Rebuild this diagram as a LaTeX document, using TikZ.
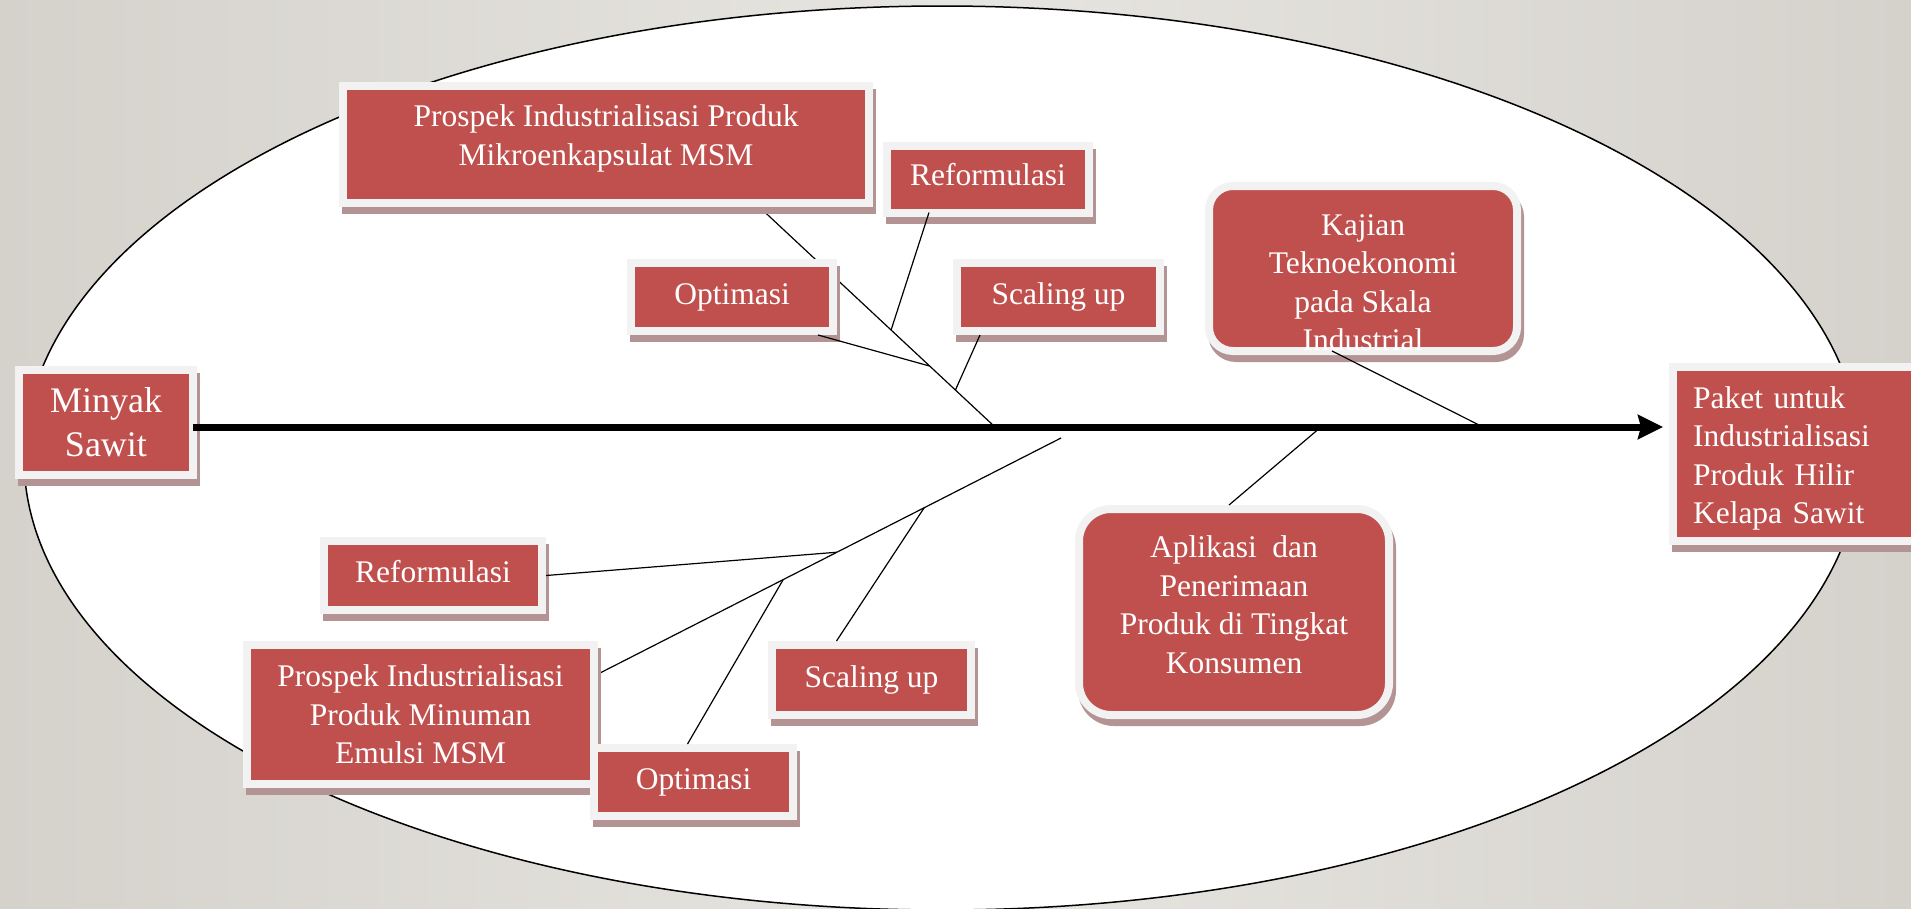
\documentclass[tikz,border=0pt]{standalone}
\usepackage{fontspec}
\setmainfont{Liberation Serif}
\usepackage{xcolor}
\usepackage{tikz}
\usetikzlibrary{arrows.meta}
\usetikzlibrary{shadows}
\usetikzlibrary{calc}
\definecolor{boxred}{HTML}{C0504D}
\definecolor{boxframe}{HTML}{F2F2F2}
\definecolor{boxshade}{HTML}{B39393}
\definecolor{slidegrey}{HTML}{D5D2CC}
\definecolor{slidelight}{HTML}{E7E5E1}
\pgfdeclarelayer{background}
\pgfdeclarelayer{bones}
\pgfsetlayers{background,bones,main}
\tikzset{
    fishbox/.style={shape=rectangle, fill=boxred, draw=boxframe, line width=8pt,
        inner sep=0pt, outer sep=0pt, text=white, align=center,
        font=\fontsize{31.5}{38.5}\selectfont,
        drop shadow={shadow xshift=3pt, shadow yshift=-7pt, opacity=1,
            fill=boxshade, draw=boxshade, line width=8pt}},
    roundbox/.style={fishbox, rounded corners=#1},
    bone/.style={draw=black, line width=1.2pt},
    spine/.style={draw=black, line width=7pt,
        -{Stealth[length=25pt, width=24pt, inset=3pt]}}}

\begin{document}
\begin{tikzpicture}[x=1pt, y=-1pt]

    \useasboundingbox (0,0) rectangle (1911,908);
    \begin{pgfonlayer}{background}
        \shade[left color=slidegrey, right color=slidegrey, middle color=slidelight] (0,0) rectangle (1911,908);
        \draw[fill=white, line width=1.5pt] (942,458) ellipse [x radius=918, y radius=452];
    \end{pgfonlayer}

    \node[fishbox, minimum width=174pt, minimum height=105pt, font=\fontsize{36}{44}\selectfont] (MS) at (106,422.5) {Minyak\\Sawit};
    \node[fishbox, minimum width=526pt, minimum height=117pt] (P1) at (606,144.5) {Prospek Industrialisasi Produk\\Mikroenkapsulat MSM\rule[-19pt]{0pt}{19pt}};
    \node[fishbox, minimum width=202pt, minimum height=67pt] (R1) at (988,179) {Reformulasi\rule[-10pt]{0pt}{10pt}};
    \node[fishbox, minimum width=202pt, minimum height=68pt] (O1) at (732,297) {Optimasi};
    \node[fishbox, minimum width=203pt, minimum height=68pt] (S1) at (1058.5,297) {Scaling up};
    \node[roundbox=24pt, minimum width=308pt, minimum height=165pt] (KT) at (1363,268.5) {\rule{0pt}{49pt}Kajian\\Teknoekonomi\\pada Skala\\Industrial};
    \node[fishbox, minimum height=174pt, text width=212pt, align=left, inner xsep=20pt] (PK) at (1799,454) {\rule{0pt}{30.5pt}Paket untuk\\Industrialisasi\\Produk Hilir\\Kelapa Sawit};
    \node[fishbox, minimum width=218pt, minimum height=69pt] (R2) at (433,575.5) {Reformulasi\rule[-8pt]{0pt}{8pt}};
    \node[fishbox, minimum width=347pt, minimum height=139pt] (P2) at (420.5,714.5) {Prospek Industrialisasi\\Produk Minuman\\Emulsi MSM};
    \node[fishbox, minimum width=199pt, minimum height=68pt] (O2) at (693.5,782) {Optimasi};
    \node[fishbox, minimum width=199pt, minimum height=70pt] (S2) at (871.5,680) {Scaling up};
    \node[roundbox=32pt, minimum width=310pt, minimum height=206pt] (AP) at (1234,612) {Aplikasi\ \ dan\\Penerimaan\\Produk di Tingkat\\Konsumen\rule[-14.5pt]{0pt}{14.5pt}};

    \begin{pgfonlayer}{bones}
        \coordinate (jA) at (995,427);
        \coordinate (jB) at (1061,438);
        \draw[bone] ([xshift=149pt]P1.south) coordinate (bA) -- (jA);
        \draw[bone] (jB) -- ([xshift=4pt, yshift=40.5pt]P2.east) coordinate (bB);
    \end{pgfonlayer}

    \coordinate (jK) at (1483,427);
    \coordinate (jP) at (1321,427);
    \draw[bone] ([xshift=-59pt]R1.south) -- ($(bA)!0.567!(jA)$);
    \draw[bone] ([xshift=86pt, yshift=-4pt]O1.south) -- ($(bA)!0.728!(jA)$);
    \draw[bone] ([xshift=-78.5pt, yshift=-4pt]S1.south) -- ($(bA)!0.835!(jA)$);
    \draw[bone] ([xshift=-31pt]KT.south) -- (jK);
    \draw[bone] ([xshift=-5pt, yshift=4pt]AP.north) -- (jP);
    \draw[bone] ([xshift=4pt]R2.east) -- ($(jB)!0.484!(bB)$);
    \draw[bone] ([xshift=-6pt, yshift=4pt]O2.north) -- ($(jB)!0.600!(bB)$);
    \draw[bone] ([xshift=-35pt, yshift=4pt]S2.north) -- ($(jB)!0.2955!(bB)$);

    \coordinate (sp) at (0,427);
    \draw[spine, shorten >=10pt] (MS.east |- sp) -- (PK.west |- sp);

\end{tikzpicture}
\end{document}
